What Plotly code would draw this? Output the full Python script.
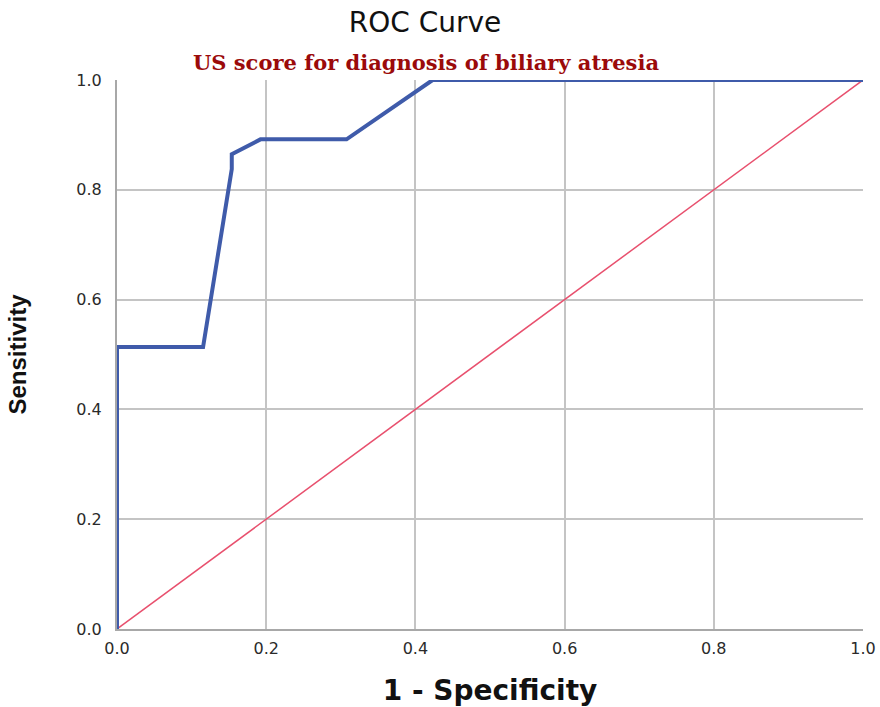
import plotly.graph_objects as go

fpr = [0.0, 0.0, 3/26, 4/26, 4/26, 5/26, 8/26, 11/26, 1.0]
tpr = [0.0, 19/37, 19/37, 31/37, 32/37, 33/37, 33/37, 1.0, 1.0]
ref_x = [0.0, 1.0]
ref_y = [0.0, 1.0]
ticks = [0.0, 0.2, 0.4, 0.6, 0.8, 1.0]
tick_text = ["0.0", "0.2", "0.4", "0.6", "0.8", "1.0"]

fig = go.Figure()
fig.add_trace(go.Scatter(x=ref_x, y=ref_y, mode="lines",
                         line=dict(color="#E8506E", width=1.5), showlegend=False))
fig.add_trace(go.Scatter(x=fpr, y=tpr, mode="lines",
                         line=dict(color="#3F5BAA", width=4), showlegend=False))

W, H = 880, 707
fig.update_layout(
    width=W, height=H,
    paper_bgcolor="white", plot_bgcolor="white",
    margin=dict(l=117, r=17, t=80, b=78),
    title=dict(text="ROC Curve", x=425 / W, xanchor="center", y=1 - 22 / H, yanchor="middle",
               font=dict(family="DejaVu Sans", size=28, color="#111")),
    annotations=[dict(text="<b>US score for diagnosis of biliary atresia</b>",
                      xref="paper", yref="paper", x=0.414, y=1.0, yanchor="middle",
                      xanchor="center", showarrow=False, yshift=18,
                      font=dict(family="DejaVu Serif", size=21, color="#9B0A0A"))],
    xaxis=dict(range=[0, 1], tickvals=ticks, ticktext=tick_text, automargin=False,
               showgrid=True, gridcolor="#C4C4C4", gridwidth=2,
               showline=True, linecolor="#A8A8A8", linewidth=2, mirror=False,
               zeroline=False, ticks="", ticklabelstandoff=4,
               tickfont=dict(family="DejaVu Sans", size=16, color="#2a2a2a"),
               title=dict(text="<b>1 - Specificity</b>", standoff=25,
                          font=dict(family="DejaVu Sans", size=28, color="#111"))),
    yaxis=dict(range=[0, 1], tickvals=ticks, ticktext=tick_text, automargin=False,
               showgrid=True, gridcolor="#C4C4C4", gridwidth=2,
               showline=True, linecolor="#A8A8A8", linewidth=2,
               zeroline=False, ticks="", ticklabelstandoff=10,
               tickfont=dict(family="DejaVu Sans", size=16, color="#2a2a2a"),
               title=dict(text="<b>Sensitivity</b>", standoff=43,
                          font=dict(family="Liberation Sans, Arial", size=24, color="#111"))),
)
fig.write_html("out.html", config={"displayModeBar": False},
               post_script="document.body.style.margin='0';document.body.style.overflow='hidden';")
